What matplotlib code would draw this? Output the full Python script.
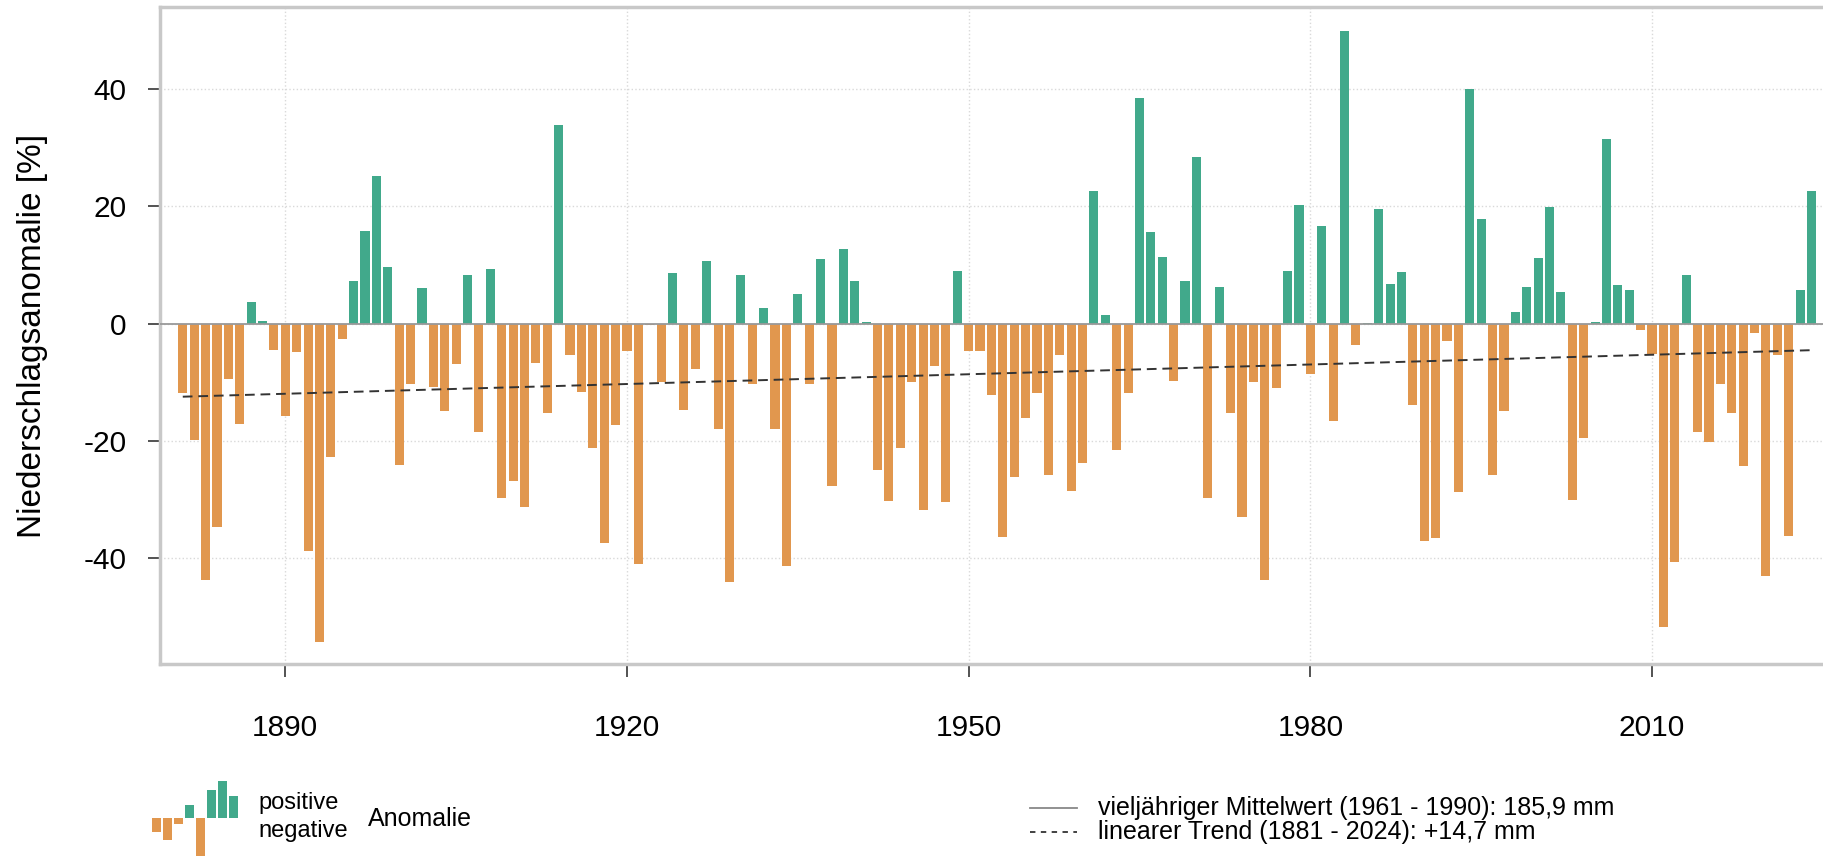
import numpy as np
import matplotlib
matplotlib.use("Agg")
from matplotlib import pyplot as plt

plt.rcParams['font.family'] = ['Liberation Sans', 'DejaVu Sans']
plt.rcParams['axes.unicode_minus'] = False

# Niederschlagsanomalie [%] je Jahr, 1881 - 2024
years = list(range(1881, 2025))
anomaly = [
    -11.8, -19.9, -43.9, -34.7, -9.5, -17.1, 3.7, 0.4, -4.5,            # 1881-1889
    -15.8, -4.8, -38.9, -54.5, -22.8, -2.7, 7.2, 15.8, 25.2, 9.7,       # 1890-1899
    -24.2, -10.4, 6.1, -10.8, -14.9, -6.9, 8.3, -18.5, 9.4, -29.8,      # 1900-1909
    -26.9, -31.3, -6.7, -15.3, 34.0, -5.4, -11.7, -21.2, -37.6, -17.3,  # 1910-1919
    -4.7, -41.1, -0.3, -10.0, 8.6, -14.7, -7.7, 10.6, -18.1, -44.1,     # 1920-1929
    8.3, -10.3, 2.6, -18.1, -41.4, 5.1, -10.3, 11.0, -27.7, 12.8,       # 1930-1939
    7.2, 0.2, -25.1, -30.3, -21.2, -10.0, -31.8, -7.2, -30.5, 8.9,      # 1940-1949
    -4.7, -4.7, -12.3, -36.5, -26.2, -16.1, -11.8, -25.9, -5.4, -28.6,  # 1950-1959
    -23.8, 22.7, 1.5, -21.7, -11.8, 38.5, 15.6, 11.4, -9.9, 7.2,        # 1960-1969
    28.4, -29.8, 6.2, -15.3, -33.1, -10.0, -43.9, -11.0, 8.9, 20.2,     # 1970-1979
    -8.6, 16.7, -16.7, 50.0, -3.7, 0.15, 19.6, 6.8, 8.8, -13.9,         # 1980-1989
    -37.2, -36.6, -3.0, -28.8, 40.0, 17.9, -25.9, -14.9, 1.9, 6.2,      # 1990-1999
    11.2, 19.9, 5.4, -30.1, -19.6, 0.3, 31.6, 6.5, 5.8, -1.1,           # 2000-2009
    -5.2, -51.9, -40.7, 8.3, -18.5, -20.2, -10.4, -15.3, -24.4, -1.7,   # 2010-2019
    -43.2, -5.4, -36.3, 5.8, 22.7,                                      # 2020-2024
]
icon_values = [-14, -22, -6, 13, -38, 28, 37, 22]

x_ticks = [1890, 1920, 1950, 1980, 2010]
y_ticks = [-40, -20, 0, 20, 40]

green = '#41a98b'
orange = '#e1974e'

years = np.array(years)
anomaly = np.array(anomaly)
colors = [green if v > 0 else orange for v in anomaly]

W, H = 1824, 857
fig = plt.figure(figsize=(W / 100, H / 100), dpi=100)
ax = fig.add_axes([160 / W, 1 - 664 / H, 1 - 160 / W, (664 - 7) / H])

ax.grid(True, color='#d9d9d9', linestyle=':', linewidth=1.0, zorder=0)
ax.bar(years, anomaly, width=0.8, color=colors, zorder=2)

# vieljähriger Mittelwert (Nulllinie) und linearer Trend
ax.axhline(0, color='#999999', linewidth=1.3, zorder=3)
slope, icpt = np.polyfit(years, anomaly, 1)
ax.plot(years[[0, -1]], slope * years[[0, -1]] + icpt, color='#333333',
        linestyle=(0, (5, 3)), linewidth=1.4, zorder=4)

ax.set_xlim(1879.0, 2025.1)
ax.set_ylim(-58.2, 54.1)
ax.set_xticks(x_ticks)
ax.set_yticks(y_ticks)
ax.tick_params(axis='both', labelsize=21.5, color='#444444', width=1.3, length=9)
ax.tick_params(axis='x', pad=27)
ax.tick_params(axis='y', pad=15)

for side in ['left', 'bottom', 'top']:
    ax.spines[side].set_color('#c8c8c8')
    ax.spines[side].set_linewidth(2.5)
ax.spines['right'].set_visible(False)

fig.text(33 / W, 1 - 336 / H, 'Niederschlagsanomalie [%]', rotation=90,
         ha='center', va='center', fontsize=24)

# Legende links: kleines Balkensymbol
icon = fig.add_axes([151 / W, 0, 88 / W, 77 / H])
icon.bar(range(len(icon_values)), icon_values, width=0.8,
         color=[green if v > 0 else orange for v in icon_values])
icon.set_xlim(-0.5, 7.5)
icon.set_ylim(-39, 38)
icon.axis('off')

fig.text(258 / W, 1 - 803 / H, 'positive', ha='left', va='center', fontsize=17)
fig.text(258 / W, 1 - 831 / H, 'negative', ha='left', va='center', fontsize=17)
fig.text(368 / W, 1 - 819 / H, 'Anomalie', ha='left', va='center', fontsize=18)

# Legende rechts
fig.add_artist(plt.Line2D([1030 / W, 1077 / W], [1 - 808 / H, 1 - 808 / H],
                          color='#888888', linewidth=1.3))
fig.add_artist(plt.Line2D([1030 / W, 1077 / W], [1 - 832 / H, 1 - 832 / H],
                          color='#333333', linewidth=1.3, linestyle=(0, (3, 3))))
fig.text(1098 / W, 1 - 808 / H, 'vieljähriger Mittelwert (1961 - 1990): 185,9 mm',
         ha='left', va='center', fontsize=18)
fig.text(1098 / W, 1 - 832 / H, 'linearer Trend (1881 - 2024): +14,7 mm',
         ha='left', va='center', fontsize=18)

fig.savefig('out.png', dpi=100)
